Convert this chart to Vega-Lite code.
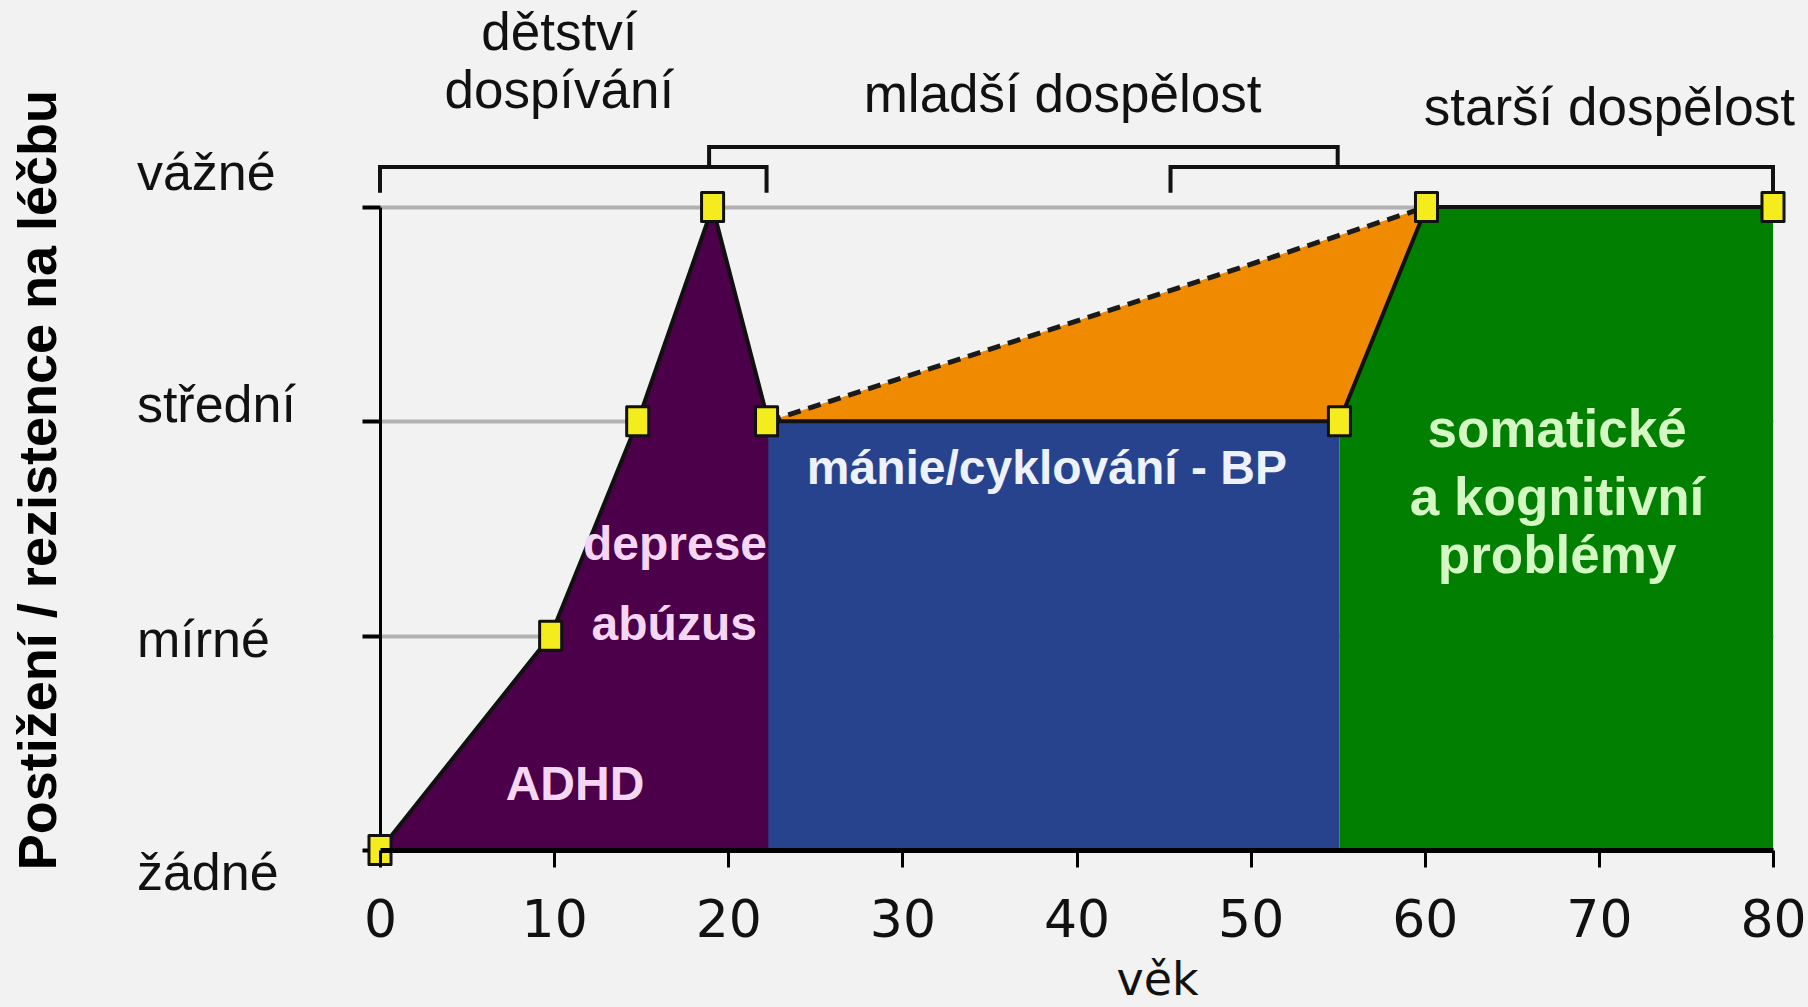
{
  "$schema": "https://vega.github.io/schema/vega-lite/v6.json",
  "width": 1393,
  "height": 643,
  "autosize": {"type": "none"},
  "padding": {"left": 380, "top": 207, "right": 35, "bottom": 157},
  "background": "#f2f2f2",
  "config": {"view": {"stroke": null}},
  "datasets": {
    "areas": [
      {"region": "ADHD", "x": 0, "y": 0, "y2": 0},
      {"region": "ADHD", "x": 9.8, "y": 1, "y2": 0},
      {"region": "ADHD", "x": 14.8, "y": 2, "y2": 0},
      {"region": "ADHD", "x": 19.1, "y": 3, "y2": 0},
      {"region": "ADHD", "x": 22.4, "y": 2, "y2": 0},
      {"region": "BP", "x": 22.3, "y": 2, "y2": 0},
      {"region": "BP", "x": 55.1, "y": 2, "y2": 0},
      {"region": "prechod", "x": 22.3, "y": 2, "y2": 2},
      {"region": "prechod", "x": 55.1, "y": 2.868, "y2": 2},
      {"region": "prechod", "x": 60.1, "y": 3, "y2": 3},
      {"region": "somaticke", "x": 55.1, "y": 2, "y2": 0},
      {"region": "somaticke", "x": 60.1, "y": 3, "y2": 0},
      {"region": "somaticke", "x": 80, "y": 3, "y2": 0}
    ],
    "outline": [
      {"o": 1, "x": 0, "y": 0},
      {"o": 2, "x": 9.8, "y": 1},
      {"o": 3, "x": 14.8, "y": 2},
      {"o": 4, "x": 19.1, "y": 3},
      {"o": 5, "x": 22.3, "y": 2},
      {"o": 6, "x": 55.1, "y": 2},
      {"o": 7, "x": 60.1, "y": 3},
      {"o": 8, "x": 80, "y": 3}
    ],
    "dashed": [
      {"o": 1, "x": 22.3, "y": 2},
      {"o": 2, "x": 60.1, "y": 3}
    ],
    "brackets": [
      {"b": "detstvi", "o": 1, "x": 0, "y": 3.066},
      {"b": "detstvi", "o": 2, "x": 0, "y": 3.187},
      {"b": "detstvi", "o": 3, "x": 22.2, "y": 3.187},
      {"b": "detstvi", "o": 4, "x": 22.2, "y": 3.066},
      {"b": "mladsi", "o": 1, "x": 18.9, "y": 3.187},
      {"b": "mladsi", "o": 2, "x": 18.9, "y": 3.28},
      {"b": "mladsi", "o": 3, "x": 55, "y": 3.28},
      {"b": "mladsi", "o": 4, "x": 55, "y": 3.187},
      {"b": "starsi", "o": 1, "x": 45.4, "y": 3.066},
      {"b": "starsi", "o": 2, "x": 45.4, "y": 3.187},
      {"b": "starsi", "o": 3, "x": 80, "y": 3.187},
      {"b": "starsi", "o": 4, "x": 80, "y": 3.05}
    ],
    "markers": [
      {"x": 0, "y": 0},
      {"x": 9.8, "y": 1},
      {"x": 14.8, "y": 2},
      {"x": 19.1, "y": 3},
      {"x": 22.2, "y": 2},
      {"x": 55.1, "y": 2},
      {"x": 60.1, "y": 3},
      {"x": 80, "y": 3}
    ],
    "labels": [
      {"style": "top", "text": "dětství", "x": 10.3, "y": 3.733},
      {"style": "top", "text": "dospívání", "x": 10.3, "y": 3.462},
      {"style": "top", "text": "mladší dospělost", "x": 39.2, "y": 3.444},
      {"style": "top", "text": "starší dospělost", "x": 70.6, "y": 3.383},
      {"style": "level", "text": "vážné", "x": -13.96, "y": 3.079},
      {"style": "level", "text": "střední", "x": -13.96, "y": 1.997},
      {"style": "level", "text": "mírné", "x": -13.96, "y": 0.9},
      {"style": "level", "text": "žádné", "x": -13.96, "y": -0.187},
      {"style": "pink", "text": "deprese", "x": 16.94, "y": 1.353},
      {"style": "pink", "text": "abúzus", "x": 16.9, "y": 0.98},
      {"style": "pink", "text": "ADHD", "x": 11.2, "y": 0.233},
      {"style": "white", "text": "mánie/cyklování - BP", "x": 38.3, "y": 1.708},
      {"style": "green", "text": "somatické", "x": 67.6, "y": 1.88},
      {"style": "green", "text": "a kognitivní", "x": 67.6, "y": 1.563},
      {"style": "green", "text": "problémy", "x": 67.6, "y": 1.292},
      {"style": "title", "text": "Postižení / rezistence na léčbu", "x": -19.53, "y": 1.726}
    ]
  },
  "encoding": {
    "x": {
      "field": "x",
      "type": "quantitative",
      "scale": {"domain": [0, 80], "nice": false, "zero": false},
      "axis": {
        "values": [0, 10, 20, 30, 40, 50, 60, 70, 80],
        "grid": false,
        "domainColor": "#000000",
        "domainWidth": 5,
        "tickColor": "#000000",
        "tickWidth": 3,
        "tickSize": 17,
        "labelFont": "DejaVu Sans",
        "labelFontSize": 52,
        "labelColor": "#111111",
        "labelBaseline": "alphabetic",
        "labelPadding": 69,
        "labelFlush": false,
        "labelOverlap": false,
        "title": "věk",
        "titleFont": "DejaVu Sans",
        "titleFontSize": 46,
        "titleFontWeight": "normal",
        "titleColor": "#111111",
        "titleX": 777,
        "titleY": 144,
        "titleAlign": "center",
        "titleBaseline": "alphabetic",
        "zindex": 1
      }
    },
    "y": {
      "field": "y",
      "type": "quantitative",
      "scale": {"domain": [0, 3], "nice": false, "zero": false},
      "axis": {
        "values": [0, 1, 2, 3],
        "labels": false,
        "title": null,
        "grid": true,
        "gridColor": "#b2b2b2",
        "gridWidth": 4,
        "domainColor": "#000000",
        "domainWidth": 3,
        "tickColor": "#000000",
        "tickWidth": 4,
        "tickSize": 18,
        "zindex": 0
      }
    }
  },
  "layer": [
    {
      "data": {"name": "areas"},
      "mark": {"type": "area", "opacity": 1},
      "encoding": {
        "y2": {"field": "y2"},
        "color": {
          "field": "region",
          "type": "nominal",
          "scale": {"domain": ["ADHD", "BP", "prechod", "somaticke"], "range": ["#4b0049", "#28438e", "#f08a00", "#007f00"]},
          "legend": null
        }
      }
    },
    {
      "data": {"name": "outline"},
      "mark": {"type": "line", "color": "#111111", "strokeWidth": 4, "strokeJoin": "round"},
      "encoding": {"order": {"field": "o", "type": "quantitative"}}
    },
    {
      "data": {"name": "dashed"},
      "mark": {"type": "line", "color": "#1a1a1a", "strokeWidth": 5, "strokeDash": [13, 8]},
      "encoding": {"order": {"field": "o", "type": "quantitative"}}
    },
    {
      "data": {"name": "brackets"},
      "mark": {"type": "line", "color": "#111111", "strokeWidth": 4, "strokeJoin": "miter"},
      "encoding": {
        "detail": {"field": "b", "type": "nominal"},
        "order": {"field": "o", "type": "quantitative"}
      }
    },
    {
      "data": {"name": "labels"},
      "transform": [{"filter": "datum.style == 'top'"}],
      "mark": {"type": "text", "font": "Liberation Sans", "fontSize": 53, "color": "#111111", "align": "center", "baseline": "alphabetic"},
      "encoding": {"text": {"field": "text"}}
    },
    {
      "data": {"name": "labels"},
      "transform": [{"filter": "datum.style == 'level'"}],
      "mark": {"type": "text", "font": "Liberation Sans", "fontSize": 52, "color": "#111111", "align": "left", "baseline": "alphabetic"},
      "encoding": {"text": {"field": "text"}}
    },
    {
      "data": {"name": "labels"},
      "transform": [{"filter": "datum.style == 'pink'"}],
      "mark": {"type": "text", "font": "Liberation Sans", "fontWeight": "bold", "fontSize": 48, "color": "#f5d6f5", "align": "center", "baseline": "alphabetic"},
      "encoding": {"text": {"field": "text"}}
    },
    {
      "data": {"name": "labels"},
      "transform": [{"filter": "datum.style == 'white'"}],
      "mark": {"type": "text", "font": "Liberation Sans", "fontWeight": "bold", "fontSize": 48, "color": "#eef2ff", "align": "center", "baseline": "alphabetic"},
      "encoding": {"text": {"field": "text"}}
    },
    {
      "data": {"name": "labels"},
      "transform": [{"filter": "datum.style == 'green'"}],
      "mark": {"type": "text", "font": "Liberation Sans", "fontWeight": "bold", "fontSize": 53, "color": "#d4f7c4", "align": "center", "baseline": "alphabetic"},
      "encoding": {"text": {"field": "text"}}
    },
    {
      "data": {"name": "labels"},
      "transform": [{"filter": "datum.style == 'title'"}],
      "mark": {"type": "text", "font": "Liberation Sans", "fontWeight": "bold", "fontSize": 54, "color": "#000000", "align": "center", "baseline": "middle", "angle": 270},
      "encoding": {"text": {"field": "text"}}
    },
    {
      "data": {"name": "markers"},
      "mark": {"type": "point", "shape": "M-0.76,-1H0.76V1H-0.76Z", "size": 841, "filled": true, "fill": "#f4ec1c", "fillOpacity": 1, "stroke": "#111111", "strokeWidth": 3, "strokeJoin": "round", "opacity": 1}
    }
  ]
}
